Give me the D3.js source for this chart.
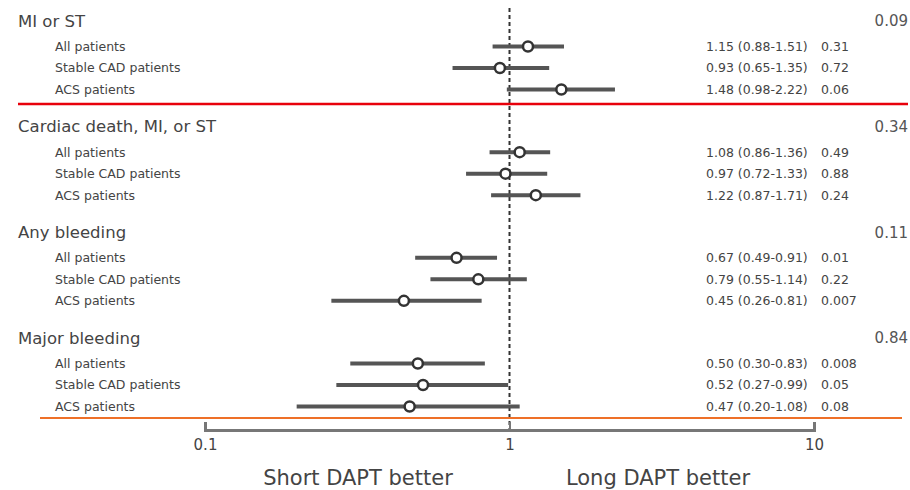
<!DOCTYPE html>
<html>
<head>
<meta charset="utf-8">
<script src="https://cdn.jsdelivr.net/npm/d3@7"></script>
<style>
  body { margin: 0; background: #fff; }
  svg { display: block; font-family: "DejaVu Sans", sans-serif; }
</style>
</head>
<body>
<div id="chart"></div>
<script>
const outcomes = ['MI or ST', 'Cardiac death, MI, or ST', 'Any bleeding', 'Major bleeding'];
const subgroups = ['All patients', 'Stable CAD patients', 'ACS patients'];
const pInteraction = ['0.09', '0.34', '0.11', '0.84'];

const hr = [[1.15, 0.93, 1.48], [1.08, 0.97, 1.22], [0.67, 0.79, 0.45], [0.50, 0.52, 0.47]];
const lo = [[0.88, 0.65, 0.98], [0.86, 0.72, 0.87], [0.49, 0.55, 0.26], [0.30, 0.27, 0.20]];
const hi = [[1.51, 1.35, 2.22], [1.36, 1.33, 1.71], [0.91, 1.14, 0.81], [0.83, 0.99, 1.08]];
const pValues = [['0.31', '0.72', '0.06'], ['0.49', '0.88', '0.24'], ['0.01', '0.22', '0.007'], ['0.008', '0.05', '0.08']];
const axisTicks = [0.1, 1, 10];

const width = 910;
const height = 490;
const axisY = 430;

const svg = d3.select('#chart').append('svg')
    .attr('width', width)
    .attr('height', height);

const x = d3.scaleLog().domain([0.1, 10]).range([205, 814]);
const groupY = d3.scaleLinear().domain([0, 3]).range([21, 338]);
const rowY = (g, r) => groupY(g) + 25.5 + r * 21.5;

const fmt = d3.format('.2f');
const ciText = (g, r) => `${fmt(hr[g][r])} (${fmt(lo[g][r])}-${fmt(hi[g][r])})`;

// reference line at 1
svg.append('line')
    .attr('x1', x(1)).attr('x2', x(1))
    .attr('y1', 8).attr('y2', axisY)
    .attr('stroke', '#333')
    .attr('stroke-width', 2)
    .attr('stroke-dasharray', '4,3');

const rows = [];
outcomes.forEach((o, g) => subgroups.forEach((s, r) => rows.push({g, r, s})));

const groups = svg.selectAll('.outcome')
    .data(outcomes)
    .enter()
    .append('g')
    .attr('class', 'outcome');

groups.append('text')
    .attr('x', 18)
    .attr('y', (d, g) => groupY(g))
    .attr('dy', '0.35em')
    .attr('font-size', 16.5)
    .attr('fill', '#444')
    .text(d => d);

// p for interaction, kept inside the right edge
groups.append('text')
    .attr('x', 908)
    .attr('y', (d, g) => groupY(g))
    .attr('dy', '0.35em')
    .attr('text-anchor', 'end')
    .attr('font-size', 15)
    .attr('fill', '#555')
    .text((d, g) => pInteraction[g]);

const rowGroups = svg.selectAll('.row')
    .data(rows)
    .enter()
    .append('g')
    .attr('class', 'row');

rowGroups.append('text')
    .attr('x', 55)
    .attr('y', d => rowY(d.g, d.r))
    .attr('dy', '0.35em')
    .attr('font-size', 12.5)
    .attr('fill', '#444')
    .text(d => d.s);

rowGroups.append('line')
    .attr('x1', d => x(lo[d.g][d.r]))
    .attr('x2', d => x(hi[d.g][d.r]))
    .attr('y1', d => rowY(d.g, d.r))
    .attr('y2', d => rowY(d.g, d.r))
    .attr('stroke', '#555')
    .attr('stroke-width', 4);

rowGroups.append('circle')
    .attr('cx', d => x(hr[d.g][d.r]))
    .attr('cy', d => rowY(d.g, d.r))
    .attr('r', 5)
    .attr('fill', '#fff')
    .attr('stroke', '#333')
    .attr('stroke-width', 2.5);

rowGroups.append('text')
    .attr('x', 706)
    .attr('y', d => rowY(d.g, d.r))
    .attr('dy', '0.35em')
    .attr('font-size', 12.5)
    .attr('fill', '#444')
    .text(d => ciText(d.g, d.r));

rowGroups.append('text')
    .attr('x', 821)
    .attr('y', d => rowY(d.g, d.r))
    .attr('dy', '0.35em')
    .attr('font-size', 12.5)
    .attr('fill', '#444')
    .text(d => pValues[d.g][d.r]);

// axis with upward ticks
const axis = svg.append('g')
    .attr('transform', `translate(0, ${axisY})`)
    .call(d3.axisBottom(x)
        .tickValues(axisTicks)
        .tickFormat(d => d)
        .tickSize(-8)
        .tickPadding(9));
axis.select('.domain').attr('stroke', '#777').attr('stroke-width', 3);
axis.selectAll('.tick line').attr('stroke', '#777').attr('stroke-width', 2);
axis.selectAll('.tick text')
    .attr('font-size', 15)
    .attr('fill', '#444')
    .attr('font-family', '"DejaVu Sans", sans-serif');

svg.append('text')
    .attr('x', 358).attr('y', 478)
    .attr('dy', '0.35em')
    .attr('text-anchor', 'middle')
    .attr('font-size', 21)
    .attr('fill', '#444')
    .text('Short DAPT better');

svg.append('text')
    .attr('x', 658).attr('y', 478)
    .attr('dy', '0.35em')
    .attr('text-anchor', 'middle')
    .attr('font-size', 21)
    .attr('fill', '#444')
    .text('Long DAPT better');

// annotation lines
svg.append('line')
    .attr('x1', 18).attr('x2', 908)
    .attr('y1', 104).attr('y2', 104)
    .attr('stroke', '#e8000b')
    .attr('stroke-width', 2.5);

svg.append('line')
    .attr('x1', 40).attr('x2', 902)
    .attr('y1', 418).attr('y2', 418)
    .attr('stroke', '#ee7028')
    .attr('stroke-width', 2);
</script>
</body>
</html>
